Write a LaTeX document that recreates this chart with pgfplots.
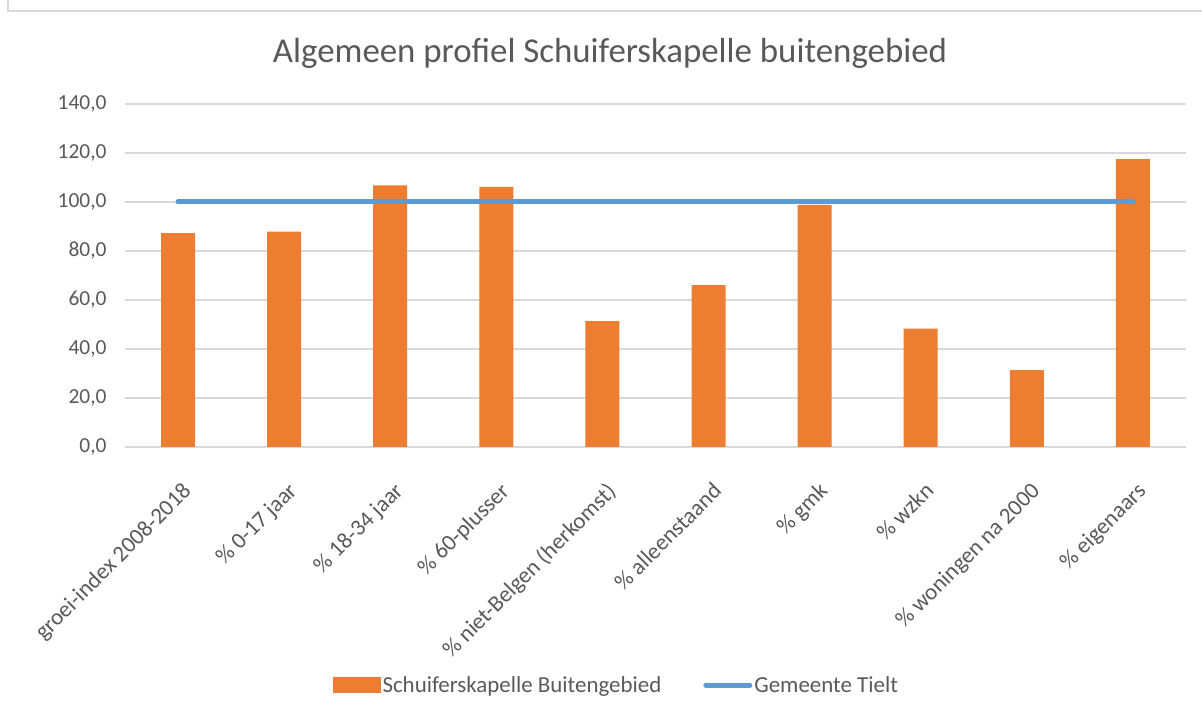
\documentclass[border=0pt]{standalone}
\usepackage{fontspec}
\setmainfont{Carlito}
\usepackage{pgfplots}
\pgfplotsset{compat=1.18}
\definecolor{barorange}{HTML}{ED7D31}
\definecolor{lineblue}{HTML}{5B9BD5}
\definecolor{gridgray}{HTML}{D9D9D9}
\definecolor{textgray}{HTML}{595959}
\begin{document}
\begin{tikzpicture}[x=1bp,y=1bp]
\useasboundingbox (0,0) rectangle (1202,713);
\draw[gridgray, line width=1.5bp] (8,713) -- (8,702) -- (1202,702);
\node[anchor=base, text=textgray, font=\fontsize{35}{42}\selectfont] at (610,650.3) {Algemeen profiel Schuiferskapelle buitengebied};
\begin{axis}[
  at={(125bp,266bp)}, anchor=south west,
  width=1061bp, height=343bp, scale only axis,
  xmin=-0.5, xmax=9.5, ymin=0, ymax=140,
  ytick={0,20,...,140},
  xtick={0,...,9},
  xticklabels={groei-index 2008-2018, \% 0-17 jaar, \% 18-34 jaar, \% 60-plusser, \% niet-Belgen (herkomst), \% alleenstaand, \% gmk, \% wzkn, \% woningen na 2000, \% eigenaars},
  major tick length=0pt,
  axis lines*=left,
  y axis line style={draw=none},
  x axis line style={draw=gridgray, line width=1.5bp},
  ymajorgrids, major grid style={gridgray, line width=1.5bp},
  tick label style={text=textgray},
  yticklabel style={font=\fontsize{21.5}{25}\selectfont, xshift=-15bp},
  xticklabel style={font=\fontsize{23}{27}\selectfont, rotate=45, anchor=north east, inner sep=0pt, yshift=-26bp, xshift=-22bp},
  /pgf/number format/.cd, fixed, fixed zerofill, precision=1, use comma, assume math mode=true,
  /pgfplots/.cd,
  legend columns=2,
  legend style={at={(0.463,-0.694)}, anchor=center, draw=none, fill=none,
    font=\fontsize{23}{27}\selectfont, text=textgray,
    /tikz/every even column/.append style={column sep=40bp}},
  legend cell align=left,
]
\addplot[ybar, bar width=34bp, fill=barorange, draw=none,
  legend image code/.code={\fill[barorange] (0bp,-8bp) rectangle (48bp,8bp);}]
  coordinates {(0,87.3) (1,87.9) (2,106.8) (3,106.2) (4,51.4) (5,66.1) (6,98.8) (7,48.3) (8,31.4) (9,117.5)};
\addlegendentry{Schuiferskapelle Buitengebied}
\addplot[lineblue, line width=5bp, line cap=round, mark=none,
  legend image code/.code={\draw[lineblue, line width=5bp, line cap=round] (2bp,0bp) -- (46bp,0bp);}]
  coordinates {(0,100) (1,100) (2,100) (3,100) (4,100) (5,100) (6,100) (7,100) (8,100) (9,100)};
\addlegendentry{Gemeente Tielt}
\end{axis}
\end{tikzpicture}
\end{document}
